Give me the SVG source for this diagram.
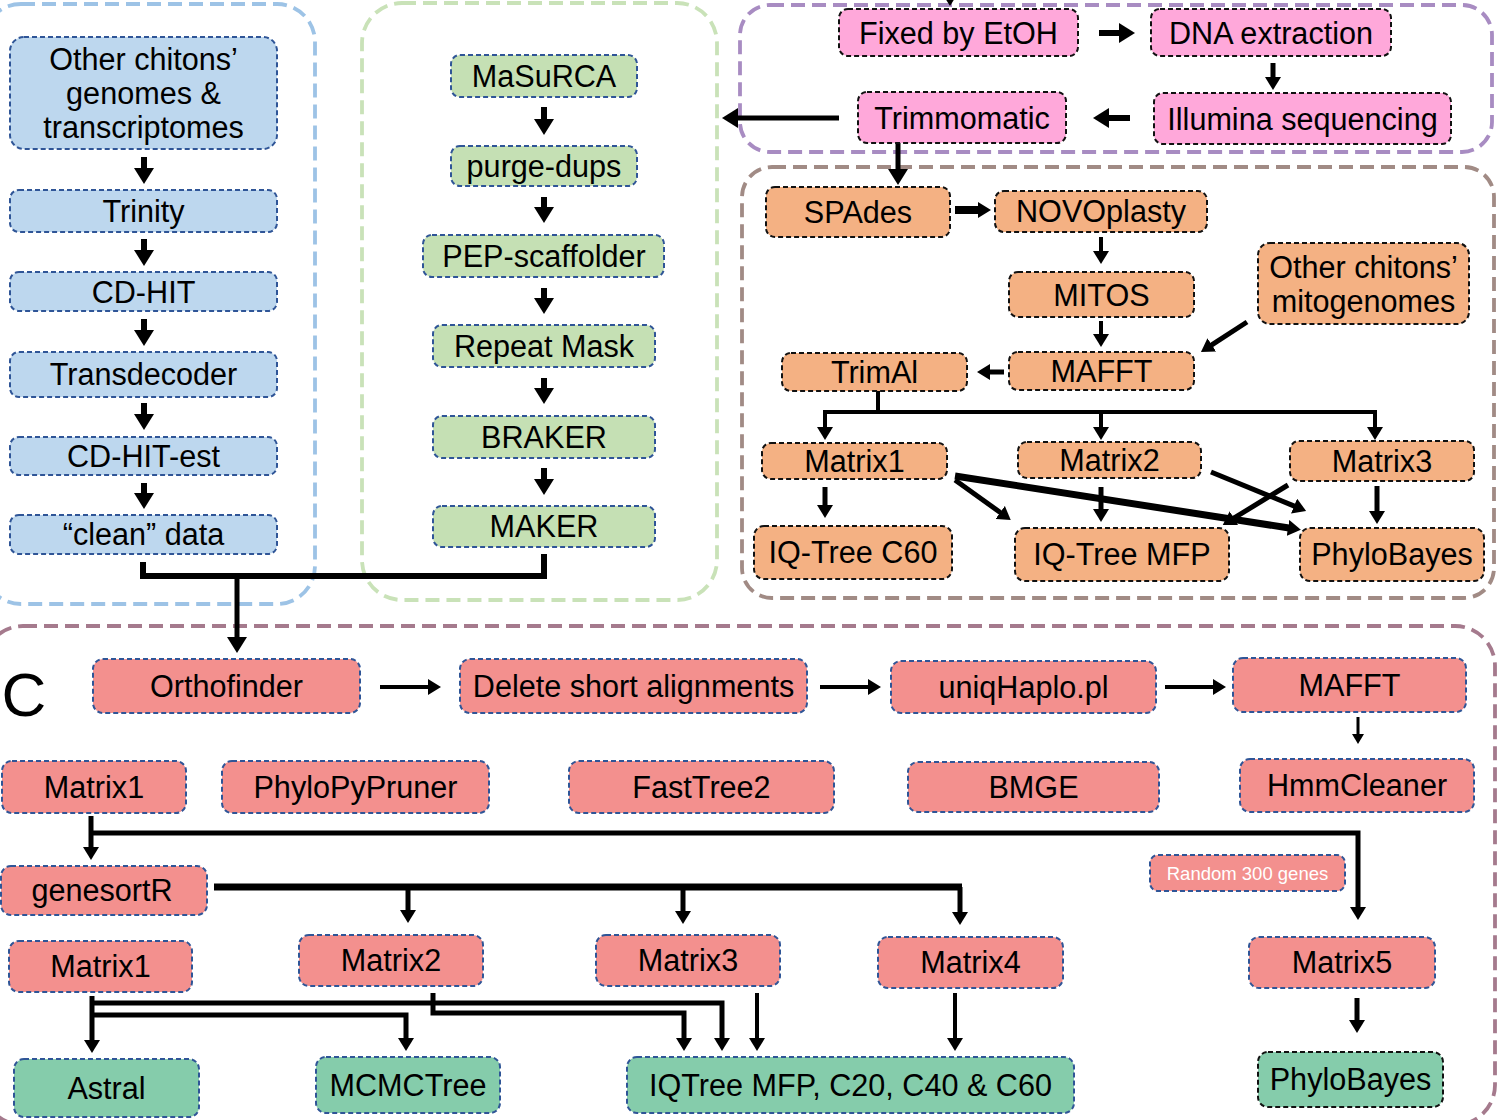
<svg xmlns="http://www.w3.org/2000/svg" width="1497" height="1120" viewBox="0 0 1497 1120">
<style>
text{font-family:"Liberation Sans",Arial,sans-serif;font-size:30.6px;fill:#000;text-anchor:middle}
.panel{fill:none;stroke-width:3.8;stroke-dasharray:14 7}
.n rect{stroke-width:2;stroke-dasharray:5 3}
.bl rect{fill:#BDD7EE;stroke:#2F5597}
.gr rect{fill:#C5E0B4;stroke:#2F5597}
.pk rect{fill:#FFA8DA;stroke:#111}
.or rect{fill:#F4B183;stroke:#111}
.rd rect{fill:#F3908E;stroke:#2F5597}
.tg rect{fill:#85CCAB;stroke:#2F5597}
.tk rect{fill:#85CCAB;stroke:#111}
#conn path{fill:none;stroke:#000;stroke-linejoin:miter}
.a{marker-end:url(#hA)}
.b{marker-end:url(#hB)}
.c{marker-end:url(#hC)}
</style>
<defs>
<marker id="hA" markerUnits="userSpaceOnUse" markerWidth="16" markerHeight="20" viewBox="0 0 16 20" refX="1" refY="10" orient="auto"><path d="M0,0 L16,10 L0,20 z" fill="#000"/></marker>
<marker id="hB" markerUnits="userSpaceOnUse" markerWidth="13" markerHeight="16" viewBox="0 0 13 16" refX="1" refY="8" orient="auto"><path d="M0,0 L13,8 L0,16 z" fill="#000"/></marker>
<marker id="hC" markerUnits="userSpaceOnUse" markerWidth="10" markerHeight="12" viewBox="0 0 10 12" refX="1" refY="6" orient="auto"><path d="M0,0 L10,6 L0,12 z" fill="#000"/></marker>
</defs>
<rect width="1497" height="1120" fill="#fff"/>

<g id="panels">
<rect class="panel" x="-17" y="4" width="332" height="600" rx="38" stroke="#9DC3E6"/>
<rect class="panel" x="362" y="3" width="355" height="597" rx="40" stroke="#C9E2B8"/>
<rect class="panel" x="740" y="5" width="752" height="147" rx="30" stroke="#A88CC2"/>
<rect class="panel" x="742" y="167" width="752" height="431" rx="30" stroke="#A18B85"/>
<rect class="panel" x="-17" y="626" width="1512" height="499" rx="40" stroke="#A57A8D"/>
</g>

<text x="24" y="716" style="font-size:62px">C</text>

<g id="connectors">
<g id="conn">
<path class="a" stroke-width="6" d="M144,157 V169"/>
<path class="a" stroke-width="6" d="M144,239 V251"/>
<path class="a" stroke-width="6" d="M144,319 V331"/>
<path class="a" stroke-width="6" d="M144,403 V415"/>
<path class="a" stroke-width="6" d="M144,483 V494"/>
<path class="a" stroke-width="6" d="M544,107 V120"/>
<path class="a" stroke-width="6" d="M544,197 V208"/>
<path class="a" stroke-width="6" d="M544,288 V299"/>
<path class="a" stroke-width="6" d="M544,378 V389"/>
<path class="a" stroke-width="6" d="M544,468 V480"/>
<path stroke-width="6" d="M143,562 V576 H544 V554"/>
<path class="a" stroke-width="5" d="M237,576 V638"/>
<path class="a" stroke-width="5" d="M950,-30 V-9"/>
<path class="a" stroke-width="6" d="M1099,33 H1120"/>
<path class="b" stroke-width="5" d="M1273,63 V78"/>
<path class="a" stroke-width="6" d="M1130,118 H1108"/>
<path class="a" stroke-width="5" d="M839,118 H737"/>
<path class="a" stroke-width="5" d="M898,143 V170"/>
<path class="b" stroke-width="8" d="M955,210 H979"/>
<path class="b" stroke-width="4" d="M1101,237 V252"/>
<path class="b" stroke-width="4" d="M1101,321 V335"/>
<path class="b" stroke-width="5" d="M1247,322 L1211,345.4"/>
<path class="b" stroke-width="5" d="M1004,372 H989"/>
<path stroke-width="4" d="M878,391 V412"/>
<path stroke-width="4" d="M823,412 H1377"/>
<path class="b" stroke-width="4" d="M825,412 V428"/>
<path class="b" stroke-width="4" d="M1101,412 V428"/>
<path class="b" stroke-width="4" d="M1375,412 V428"/>
<path class="b" stroke-width="5" d="M825,487 V506"/>
<path class="b" stroke-width="5" d="M1101,487 V510"/>
<path class="b" stroke-width="5" d="M1377,486 V512"/>
<path class="b" stroke-width="5" d="M955,480 L1001,513"/>
<path class="b" stroke-width="7" d="M955,476 L1289,528"/>
<path class="b" stroke-width="5" d="M1211,472 L1295,506.4"/>
<path class="b" stroke-width="5" d="M1288,485 L1233,518.7"/>
<path class="b" stroke-width="4" d="M380,687 H429"/>
<path class="b" stroke-width="4" d="M820,687 H869"/>
<path class="b" stroke-width="4" d="M1165,687 H1214"/>
<path class="c" stroke-width="3" d="M1358,717 V735"/>
<path class="b" stroke-width="5" d="M91,816 V848"/>
<path class="b" stroke-width="5" d="M91,833 H1358 V908"/>
<path stroke-width="7" d="M214,887 H962"/>
<path class="b" stroke-width="5" d="M408,887 V911"/>
<path class="b" stroke-width="5" d="M683,887 V912"/>
<path class="b" stroke-width="5" d="M960,887 V913"/>
<path class="b" stroke-width="5" d="M92,996 V1041"/>
<path class="b" stroke-width="5" d="M92,1003 H722 V1039"/>
<path class="b" stroke-width="5" d="M92,1015 H406 V1039"/>
<path class="b" stroke-width="5" d="M433,993 V1013 H684 V1039"/>
<path class="b" stroke-width="4" d="M757,993 V1039"/>
<path class="b" stroke-width="4" d="M955,993 V1039"/>
<path class="b" stroke-width="5" d="M1357,998 V1021"/>
</g>
</g>

<g id="n-other-genomes" class="n bl"><rect x="10" y="37" width="267" height="112" rx="14"/><text x="143.5" y="70">Other chitons’</text><text x="143.5" y="104">genomes &amp;</text><text x="143.5" y="138">transcriptomes</text></g>
<g id="n-trinity" class="n bl"><rect x="10" y="190" width="267" height="42" rx="9"/><text x="143.5" y="222">Trinity</text></g>
<g id="n-cdhit" class="n bl"><rect x="10" y="272" width="267" height="39" rx="9"/><text x="143.5" y="302.5">CD-HIT</text></g>
<g id="n-transdecoder" class="n bl"><rect x="10" y="352" width="267" height="45" rx="9"/><text x="143.5" y="385">Transdecoder</text></g>
<g id="n-cdhitest" class="n bl"><rect x="10" y="437" width="267" height="38" rx="9"/><text x="143.5" y="467">CD-HIT-est</text></g>
<g id="n-clean" class="n bl"><rect x="10" y="515" width="267" height="39" rx="9"/><text x="143.5" y="545">“clean” data</text></g>

<g id="n-masurca" class="n gr"><rect x="451" y="55" width="186" height="42" rx="9"/><text x="544" y="87">MaSuRCA</text></g>
<g id="n-purge" class="n gr"><rect x="451" y="146" width="186" height="40" rx="9"/><text x="544" y="177">purge-dups</text></g>
<g id="n-pep" class="n gr"><rect x="423" y="235" width="241" height="42" rx="9"/><text x="544" y="267">PEP-scaffolder</text></g>
<g id="n-repeat" class="n gr"><rect x="433" y="325" width="222" height="42" rx="9"/><text x="544" y="357">Repeat Mask</text></g>
<g id="n-braker" class="n gr"><rect x="433" y="416" width="222" height="42" rx="9"/><text x="544" y="448">BRAKER</text></g>
<g id="n-maker" class="n gr"><rect x="433" y="506" width="222" height="41" rx="9"/><text x="544" y="537">MAKER</text></g>

<g id="n-fixed" class="n pk"><rect x="839" y="9" width="239" height="47" rx="9"/><text x="958.5" y="44">Fixed by EtOH</text></g>
<g id="n-dna" class="n pk"><rect x="1151" y="9" width="240" height="47" rx="9"/><text x="1271" y="44">DNA extraction</text></g>
<g id="n-illumina" class="n pk"><rect x="1154" y="93" width="297" height="51" rx="9"/><text x="1302.5" y="130">Illumina sequencing</text></g>
<g id="n-trimmomatic" class="n pk"><rect x="858" y="92" width="208" height="51" rx="9"/><text x="962" y="129">Trimmomatic</text></g>

<g id="n-spades" class="n or"><rect x="766" y="187" width="184" height="50" rx="9"/><text x="858" y="223">SPAdes</text></g>
<g id="n-novo" class="n or"><rect x="995" y="191" width="212" height="41" rx="9"/><text x="1101" y="222">NOVOplasty</text></g>
<g id="n-mitos" class="n or"><rect x="1009" y="272" width="185" height="45" rx="9"/><text x="1101.5" y="306">MITOS</text></g>
<g id="n-other-mito" class="n or"><rect x="1258" y="243" width="211" height="81" rx="12"/><text x="1363.5" y="278">Other chitons’</text><text x="1363.5" y="312">mitogenomes</text></g>
<g id="n-mafft1" class="n or"><rect x="1009" y="352" width="185" height="38" rx="9"/><text x="1101.5" y="382">MAFFT</text></g>
<g id="n-trimal" class="n or"><rect x="782" y="353" width="185" height="38" rx="9"/><text x="874.5" y="383">TrimAl</text></g>
<g id="n-om1" class="n or"><rect x="762" y="443" width="185" height="36" rx="9"/><text x="854.5" y="472">Matrix1</text></g>
<g id="n-om2" class="n or"><rect x="1018" y="442" width="183" height="36" rx="9"/><text x="1109.5" y="471">Matrix2</text></g>
<g id="n-om3" class="n or"><rect x="1290" y="441" width="184" height="40" rx="9"/><text x="1382" y="472">Matrix3</text></g>
<g id="n-iqc60" class="n or"><rect x="754" y="526" width="198" height="53" rx="10"/><text x="853" y="563">IQ-Tree C60</text></g>
<g id="n-iqmfp" class="n or"><rect x="1015" y="528" width="214" height="53" rx="10"/><text x="1122" y="565">IQ-Tree MFP</text></g>
<g id="n-pb1" class="n or"><rect x="1300" y="528" width="184" height="53" rx="10"/><text x="1392" y="565">PhyloBayes</text></g>

<g id="n-orthofinder" class="n rd"><rect x="93" y="659" width="267" height="54" rx="10"/><text x="226.5" y="697">Orthofinder</text></g>
<g id="n-delete" class="n rd"><rect x="460" y="659" width="347" height="54" rx="10"/><text x="633.5" y="697">Delete short alignments</text></g>
<g id="n-uniq" class="n rd"><rect x="891" y="661" width="265" height="52" rx="10"/><text x="1023.5" y="698">uniqHaplo.pl</text></g>
<g id="n-mafft2" class="n rd"><rect x="1233" y="658" width="233" height="54" rx="10"/><text x="1349.5" y="696">MAFFT</text></g>
<g id="n-cm1a" class="n rd"><rect x="2" y="761" width="184" height="52" rx="10"/><text x="94" y="798">Matrix1</text></g>
<g id="n-phylopy" class="n rd"><rect x="222" y="761" width="267" height="52" rx="10"/><text x="355.5" y="798">PhyloPyPruner</text></g>
<g id="n-fasttree" class="n rd"><rect x="569" y="761" width="265" height="52" rx="10"/><text x="701.5" y="798">FastTree2</text></g>
<g id="n-bmge" class="n rd"><rect x="908" y="762" width="251" height="50" rx="10"/><text x="1033.5" y="798">BMGE</text></g>
<g id="n-hmm" class="n rd"><rect x="1240" y="759" width="234" height="53" rx="10"/><text x="1357" y="796">HmmCleaner</text></g>
<g id="n-genesort" class="n rd"><rect x="1" y="866" width="206" height="49" rx="10"/><text x="102" y="901">genesortR</text></g>
<g id="n-random" class="n rd"><rect x="1150" y="855" width="195" height="36" rx="8"/><text x="1247.5" y="880" style="font-size:18.5px;fill:#fff">Random 300 genes</text></g>
<g id="n-cm1b" class="n rd"><rect x="9" y="941" width="183" height="51" rx="10"/><text x="100.5" y="977">Matrix1</text></g>
<g id="n-cm2" class="n rd"><rect x="299" y="935" width="184" height="51" rx="10"/><text x="391" y="971">Matrix2</text></g>
<g id="n-cm3" class="n rd"><rect x="596" y="935" width="184" height="51" rx="10"/><text x="688" y="971">Matrix3</text></g>
<g id="n-cm4" class="n rd"><rect x="878" y="937" width="185" height="51" rx="10"/><text x="970.5" y="973">Matrix4</text></g>
<g id="n-cm5" class="n rd"><rect x="1249" y="937" width="186" height="51" rx="10"/><text x="1342" y="973">Matrix5</text></g>
<g id="n-astral" class="n tg"><rect x="14" y="1059" width="185" height="58" rx="10"/><text x="106.5" y="1099">Astral</text></g>
<g id="n-mcmc" class="n tg"><rect x="316" y="1057" width="184" height="56" rx="10"/><text x="408" y="1096">MCMCTree</text></g>
<g id="n-iqtree" class="n tg"><rect x="627" y="1057" width="447" height="56" rx="10"/><text x="850.5" y="1096">IQTree MFP, C20, C40 &amp; C60</text></g>
<g id="n-pb2" class="n tk"><rect x="1258" y="1052" width="185" height="55" rx="10"/><text x="1350.5" y="1090">PhyloBayes</text></g>
</svg>
